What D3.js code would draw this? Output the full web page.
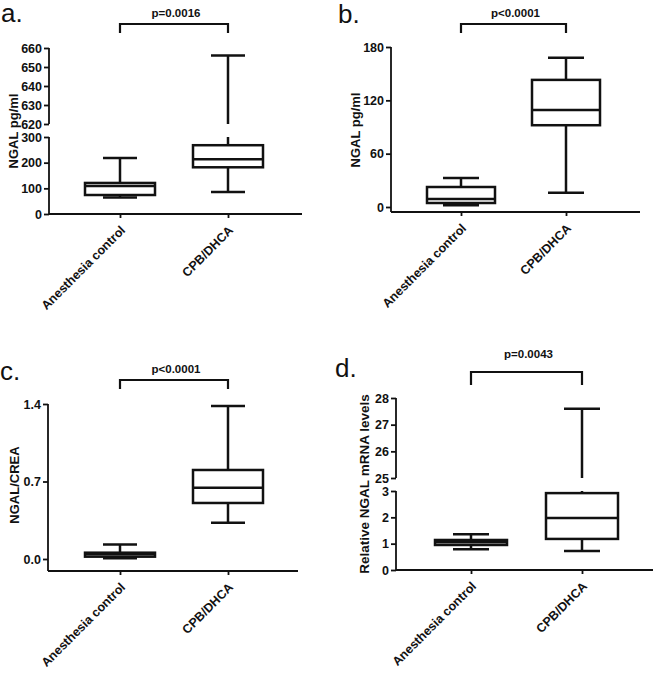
<!DOCTYPE html>
<html lang="en">
<head>
    <meta charset="UTF-8">
    <title> NGAL box plots </title>
    <script type="text/javascript" src="https://cdn.jsdelivr.net/npm/d3@7"></script>
    <style type="text/css">
        body { margin: 0; background: #fff; }
        svg text { font-family: "Liberation Sans", Arial, sans-serif; fill: #111; }
    </style>
</head>
<body>
    <script type="text/javascript">
        //Width and height
        var w = 657;
        var h = 673;

        var groups = ["Anesthesia control", "CPB/DHCA"];

        //five-number summaries [min, q1, median, q3, max], one per group
        var ngalSerum = [ [64, 74, 109, 121, 218], [86, 182, 213, 268, 656] ];
        var ngalUrine = [ [2, 4.5, 9, 22.5, 32.5], [16, 92, 109, 143, 168] ];
        var ngalCrea  = [ [0.006, 0.021, 0.043, 0.057, 0.13], [0.328, 0.506, 0.644, 0.804, 1.382] ];
        var ngalMrna  = [ [0.79, 0.95, 1.05, 1.14, 1.36], [0.72, 1.18, 1.97, 2.92, 27.6] ];

        var pValues = ["p=0.0016", "p<0.0001", "p<0.0001", "p=0.0043"];

        //tick labels (broken axes have a lower and an upper part)
        var ticksA = [ [0, 100, 200, 300], [620, 630, 640, 650, 660] ];
        var ticksB = [ [0, 60, 120, 180] ];
        var ticksC = [ [0, 0.7, 1.4] ];
        var ticksD = [ [0, 1, 2, 3], [25, 26, 27, 28] ];

        //panel layout
        var panels = [
            { label: "a.", lx: 1, ly: 22, data: ngalSerum, p: pValues[0], title: "NGAL pg/ml", tx: 18, ty: 131, tsize: 13,
              x0: 49, x1: 302, axisY: 214, centers: [120, 228], half: 35, cap: 17, bY: 24, leg: 9, pY: 17,
              segs: [ { d: [0, 300], r: [214, 137], t: ticksA[0] }, { d: [620, 660], r: [124, 48], t: ticksA[1] } ],
              fmt: d3.format("d") },
            { label: "b.", lx: 338, ly: 23, data: ngalUrine, p: pValues[1], title: "NGAL pg/ml", tx: 360, ty: 130, tsize: 13,
              x0: 391, x1: 640, axisY: 212, centers: [461, 566], half: 34, cap: 18, bY: 24, leg: 9, pY: 17,
              segs: [ { d: [0, 180], r: [207, 47], t: ticksB[0] } ],
              fmt: d3.format("d") },
            { label: "c.", lx: 0, ly: 380, data: ngalCrea, p: pValues[2], title: "NGAL/CREA", tx: 19, ty: 485, tsize: 13,
              x0: 48, x1: 298, axisY: 571, centers: [120, 228], half: 35, cap: 17, bY: 380, leg: 9, pY: 373,
              segs: [ { d: [0, 1.4], r: [559, 404], t: ticksC[0] } ],
              fmt: d3.format(".1f") },
            { label: "d.", lx: 335, ly: 377, data: ngalMrna, p: pValues[3], title: "Relative NGAL mRNA levels", tx: 369, ty: 484, tsize: 13.5,
              x0: 396, x1: 653, axisY: 570, centers: [471, 582], half: 36, cap: 18, bY: 372, leg: 13, pY: 358,
              segs: [ { d: [0, 3], r: [570, 491], t: ticksD[0] }, { d: [25, 28], r: [478, 398], t: ticksD[1] } ],
              fmt: d3.format("d") }
        ];

        //Create SVG element
        var svg = d3.select("body")
            .append("svg")
            .attr("width", w)
            .attr("height", h);

        panels.forEach(function(P) {
            var g = svg.append("g");

            var xScale = d3.scalePoint()
                .domain(groups)
                .range(P.centers);

            var scales = P.segs.map(function(s) {
                return d3.scaleLinear().domain(s.d).range(s.r);
            });

            //value -> pixel, picking the axis part that holds it
            function yPos(v) {
                for (var i = 0; i < P.segs.length; i++) {
                    if (v <= P.segs[i].d[1] || i == P.segs.length - 1) return scales[i](v);
                }
            }

            //y axis parts
            P.segs.forEach(function(s, i) {
                var ax = g.append("g")
                    .attr("transform", "translate(" + P.x0 + ",0)")
                    .call(d3.axisLeft(scales[i])
                        .tickValues(s.t)
                        .tickFormat(P.fmt)
                        .tickSize(5)
                        .tickSizeOuter(0)
                        .tickPadding(2));
                ax.select(".domain").remove();
                ax.selectAll("line").attr("stroke", "#111").attr("stroke-width", 1.8);
                ax.selectAll("text")
                    .attr("font-size", "12.5px")
                    .attr("font-weight", "bold")
                    .attr("fill", "#111");
                var bottom = (i == 0) ? P.axisY : s.r[0];
                g.append("line")
                    .attr("x1", P.x0).attr("x2", P.x0)
                    .attr("y1", s.r[1]).attr("y2", bottom)
                    .attr("stroke", "#111").attr("stroke-width", 1.8);
            });

            //x axis
            var xa = g.append("g")
                .attr("transform", "translate(0," + P.axisY + ")")
                .call(d3.axisBottom(xScale).tickSize(4).tickSizeOuter(0).tickFormat(""));
            xa.select(".domain").remove();
            xa.selectAll("line").attr("stroke", "#111").attr("stroke-width", 1.8);
            g.append("line")
                .attr("x1", P.x0).attr("x2", P.x1)
                .attr("y1", P.axisY).attr("y2", P.axisY)
                .attr("stroke", "#111").attr("stroke-width", 1.8);

            //rotated category labels
            g.selectAll("text.cat")
                .data(groups)
                .enter()
                .append("text")
                .attr("class", "cat")
                .attr("text-anchor", "end")
                .attr("font-size", "12.5px")
                .attr("font-weight", "bold")
                .attr("transform", function(d) {
                    return "translate(" + (xScale(d) + 6) + "," + (P.axisY + 17) + ") rotate(-45)";
                })
                .text(function(d) { return d; });

            //whiskers, split across the axis break
            P.data.forEach(function(b, k) {
                var cx = xScale(groups[k]);
                [[b[0], b[1]], [b[3], b[4]]].forEach(function(seg) {
                    P.segs.forEach(function(s, i) {
                        var lo = Math.max(seg[0], s.d[0]);
                        var hi = Math.min(seg[1], s.d[1]);
                        if (hi > lo) {
                            g.append("line")
                                .attr("x1", cx).attr("x2", cx)
                                .attr("y1", scales[i](lo)).attr("y2", scales[i](hi))
                                .attr("stroke", "#111").attr("stroke-width", 2.5);
                        }
                    });
                });
                //caps
                [b[0], b[4]].forEach(function(v) {
                    g.append("line")
                        .attr("x1", cx - P.cap).attr("x2", cx + P.cap)
                        .attr("y1", yPos(v)).attr("y2", yPos(v))
                        .attr("stroke", "#111").attr("stroke-width", 2.5);
                });
                //box
                g.append("rect")
                    .attr("x", cx - P.half)
                    .attr("y", yPos(b[3]))
                    .attr("width", P.half * 2)
                    .attr("height", yPos(b[1]) - yPos(b[3]))
                    .attr("fill", "#fff")
                    .attr("stroke", "#111")
                    .attr("stroke-width", 2.5);
                //median
                g.append("line")
                    .attr("x1", cx - P.half).attr("x2", cx + P.half)
                    .attr("y1", yPos(b[2])).attr("y2", yPos(b[2]))
                    .attr("stroke", "#111").attr("stroke-width", 2.5);
            });

            //y axis title
            g.append("text")
                .attr("text-anchor", "middle")
                .attr("font-size", P.tsize + "px")
                .attr("font-weight", "bold")
                .attr("transform", "translate(" + P.tx + "," + P.ty + ") rotate(-90)")
                .text(P.title);

            //significance bracket
            var xa0 = P.centers[0], xa1 = P.centers[1];
            g.append("path")
                .attr("d", "M" + xa0 + "," + (P.bY + P.leg) + "V" + P.bY + "H" + xa1 + "V" + (P.bY + P.leg))
                .attr("fill", "none")
                .attr("stroke", "#111")
                .attr("stroke-width", 2.2);
            g.append("text")
                .attr("text-anchor", "middle")
                .attr("x", (xa0 + xa1) / 2 + 2)
                .attr("y", P.pY)
                .attr("font-size", "11.5px")
                .attr("font-weight", "bold")
                .text(P.p);

            //panel letter
            g.append("text")
                .attr("x", P.lx)
                .attr("y", P.ly)
                .attr("font-size", "26px")
                .text(P.label);
        });
    </script>
</body>
</html>
